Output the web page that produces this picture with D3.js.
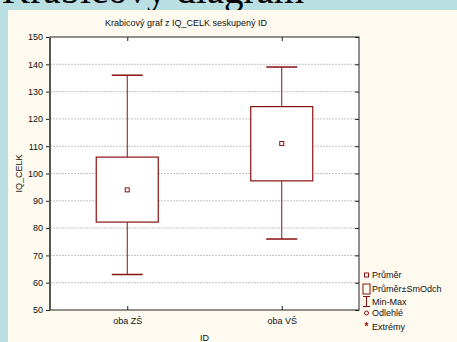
<!DOCTYPE html>
<html><head><meta charset="utf-8">
<script src="https://cdn.jsdelivr.net/npm/d3@7"></script>
<style>html,body{margin:0;padding:0;background:#b9dfe3;overflow:hidden}svg{display:block}</style>
</head><body>
<script>
const categories = ["oba ZŠ", "oba VŠ"];
const means = [94, 111];
const sdLow = [82.2, 97.3];
const sdHigh = [106, 124.5];
const mins = [63, 76];
const maxs = [136, 139];
const yTicks = [50, 60, 70, 80, 90, 100, 110, 120, 130, 140, 150];
const legendItems = ["Průměr", "Průměr±SmOdch", "Min-Max", "Odlehlé", "Extrémy"];

const W = 457, H = 342;
const svg = d3.select("body").append("svg").attr("width", W).attr("height", H);
const red = "#8b1010";
const font = "Arial, 'Liberation Sans', sans-serif";

svg.append("rect").attr("x", 0).attr("y", 0).attr("width", W).attr("height", H).attr("fill", "#b9dfe3");
svg.append("text").attr("x", 2).attr("y", 3).attr("font-family", "'Liberation Serif', 'DejaVu Serif', serif")
  .attr("font-size", 39).attr("fill", "#000").text("Krabicový diagram");
svg.append("rect").attr("x", 8).attr("y", 10).attr("width", W - 8).attr("height", H - 10).attr("fill", "#fefaef");

const L = 50, R = 359, T = 37, B = 310;
const x = d3.scalePoint().domain(categories).range([L, R]).padding(0.5);
const y = d3.scaleLinear().domain([50, 150]).range([B, T]);

svg.append("rect").attr("x", L).attr("y", T).attr("width", R - L).attr("height", B - T).attr("fill", "#fff");

// gridlines
svg.append("g").selectAll("line").data(yTicks.filter(d => d > 50 && d < 150)).join("line")
  .attr("x1", L).attr("x2", R).attr("y1", d => y(d)).attr("y2", d => y(d))
  .attr("stroke", "#c4c4c4").attr("stroke-width", 1).attr("stroke-dasharray", "2,1");

// axes
const gl = svg.append("g").attr("transform", `translate(${L},0)`)
  .call(d3.axisLeft(y).tickValues(yTicks).tickSize(4).tickPadding(3));
const gr = svg.append("g").attr("transform", `translate(${R},0)`)
  .call(d3.axisLeft(y).tickValues(yTicks).tickSize(4).tickFormat(""));
const gb = svg.append("g").attr("transform", `translate(0,${B})`)
  .call(d3.axisTop(x).tickSize(4).tickFormat(""));
const gb2 = svg.append("g").attr("transform", `translate(0,${B})`)
  .call(d3.axisBottom(x).tickSize(0).tickPadding(8));
const gt = svg.append("g").attr("transform", `translate(0,${T})`)
  .call(d3.axisBottom(x).tickSize(4).tickFormat(""));
[gl, gr, gb, gb2, gt].forEach(g => {
  g.select(".domain").remove();
  g.selectAll("line").attr("stroke", "#222");
  g.selectAll("text").attr("font-family", font).attr("font-size", 9).attr("fill", "#111");
});
svg.append("rect").attr("x", L).attr("y", T).attr("width", R - L).attr("height", B - T)
  .attr("fill", "none").attr("stroke", "#222").attr("stroke-width", 1);
svg.append("line").attr("x1", L).attr("x2", L).attr("y1", T).attr("y2", B).attr("stroke", "#555").attr("stroke-width", 2);

// boxes
const bw = 62, cw = 31;
const g = svg.append("g");
categories.forEach((c, i) => {
  const cx = x(c);
  g.append("line").attr("x1", cx).attr("x2", cx).attr("y1", y(maxs[i])).attr("y2", y(sdHigh[i])).attr("stroke", red);
  g.append("line").attr("x1", cx).attr("x2", cx).attr("y1", y(sdLow[i])).attr("y2", y(mins[i])).attr("stroke", red);
  g.append("line").attr("x1", cx - cw / 2).attr("x2", cx + cw / 2).attr("y1", y(maxs[i])).attr("y2", y(maxs[i])).attr("stroke", red).attr("stroke-width", 1.5);
  g.append("line").attr("x1", cx - cw / 2).attr("x2", cx + cw / 2).attr("y1", y(mins[i])).attr("y2", y(mins[i])).attr("stroke", red).attr("stroke-width", 1.5);
  g.append("rect").attr("x", cx - bw / 2).attr("y", y(sdHigh[i])).attr("width", bw).attr("height", y(sdLow[i]) - y(sdHigh[i]))
    .attr("fill", "#fff").attr("stroke", red).attr("stroke-width", 1.2);
  g.append("rect").attr("x", cx - 2).attr("y", y(means[i]) - 2).attr("width", 4).attr("height", 4)
    .attr("fill", "#fff").attr("stroke", red).attr("stroke-width", 1);
});

// titles
svg.append("text").attr("x", 186).attr("y", 26).attr("text-anchor", "middle")
  .attr("font-family", font).attr("font-size", 9).attr("fill", "#111").text("Krabicový graf z IQ_CELK seskupený ID");
svg.append("text").attr("transform", `translate(22,${(T + B) / 2}) rotate(-90)`).attr("text-anchor", "middle")
  .attr("font-family", font).attr("font-size", 9).attr("fill", "#111").text("IQ_CELK");
svg.append("text").attr("x", (L + R) / 2).attr("y", 341).attr("text-anchor", "middle")
  .attr("font-family", font).attr("font-size", 9).attr("fill", "#111").text("ID");

// legend
const ly = [275, 289, 301.5, 313, 326.5];
const lx = 366.5;
const lg = svg.append("g");
lg.append("rect").attr("x", lx - 2).attr("y", ly[0] - 2).attr("width", 4).attr("height", 4).attr("fill", "#fff").attr("stroke", red);
lg.append("rect").attr("x", lx - 3.5).attr("y", ly[1] - 5).attr("width", 7).attr("height", 10).attr("fill", "none").attr("stroke", red);
lg.append("line").attr("x1", lx - 3.5).attr("x2", lx + 3.5).attr("y1", ly[2] - 5).attr("y2", ly[2] - 5).attr("stroke", red);
lg.append("line").attr("x1", lx - 3.5).attr("x2", lx + 3.5).attr("y1", ly[2] + 5).attr("y2", ly[2] + 5).attr("stroke", red);
lg.append("line").attr("x1", lx).attr("x2", lx).attr("y1", ly[2] - 5).attr("y2", ly[2] + 5).attr("stroke", red);
lg.append("circle").attr("cx", lx).attr("cy", ly[3]).attr("r", 2).attr("fill", "none").attr("stroke", red);
lg.append("text").attr("x", lx).attr("y", ly[4] + 3.5).attr("text-anchor", "middle").attr("font-family", font)
  .attr("font-size", 10).attr("font-weight", "bold").attr("fill", red).text("*");
lg.selectAll("text.l").data(legendItems).join("text").attr("class", "l")
  .attr("x", 372).attr("y", (d, i) => ly[i] + 3).attr("font-family", font).attr("font-size", 9).attr("fill", "#111").text(d => d);
</script>
</body></html>
